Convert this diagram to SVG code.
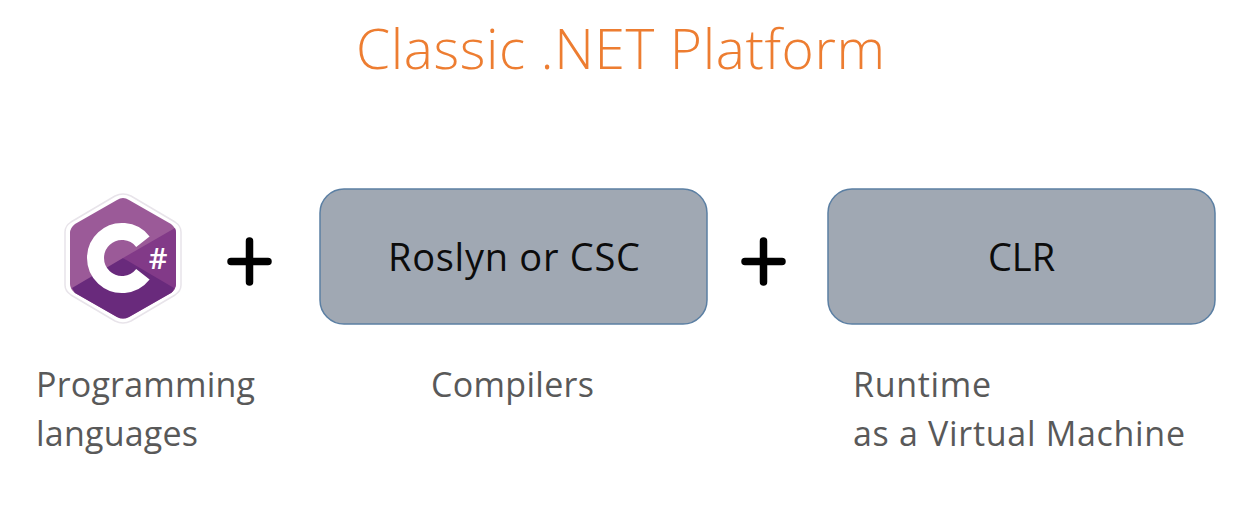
<svg xmlns="http://www.w3.org/2000/svg" width="1251" height="523" viewBox="0 0 1251 523">
<style>
text{font-family:"Open Sans","Noto Sans","Liberation Sans",sans-serif}
.box{fill:#a0a8b3;stroke:#5b7fa3;stroke-width:1.5}
.boxt{font-size:38px;fill:#0c0c0c;text-anchor:middle}
.cap{font-size:34px;fill:#595959}
.plus{stroke:#000;stroke-width:7.500;stroke-linecap:round;fill:none}
</style>
<rect width="1251" height="523" fill="#fff"/>
<text id="title" x="620.500" y="69" font-size="55" font-weight="350" fill="#ed7d31" text-anchor="middle" textLength="529" lengthAdjust="spacing">Classic .NET Platform</text>
<g id="csharp-logo">
<path d="M123 194 Q127 194 131 196 L175 222 Q181 226 181 232 L181 285 Q181 291 175 295 L131 321 Q123 325 115 321 L71 295 Q65 291 65 285 L65 232 Q65 226 71 222 L115 196 Q119 194 123 194Z" fill="#fff" stroke="#e8e4ea" stroke-width="1.5"/>
<path d="M123 198 Q126 198 129 200 L171 224 Q176 228 176 233 L176 284 Q176 289 171 293 L129 317 Q123 320 117 317 L75 293 Q70 289 70 284 L70 233 Q70 228 75 224 L117 200 Q120 198 123 198Z" fill="#9b5a98"/>
<path d="M175 228 Q176 230 176 233 L176 284 Q176 289 171 293 L123 258Z" fill="#823a88"/>
<path d="M72 288 L123 258 L174 288 Q173 292 171 293 L129 317 Q123 320 117 317 L75 293Z" fill="#692a7c"/>
<path d="M142.900 241.700 A26.500 26.500 0 1 0 142.900 274.300" fill="none" stroke="#fff" stroke-width="17"/>
<text x="158" y="269" font-size="29" font-weight="600" fill="#fff" text-anchor="middle">#</text>
</g>
<g id="connectors">
<path class="plus" d="M231 261.500 H268 M249.500 241 V282"/>
<path class="plus" d="M745 261.500 H782 M763.500 241 V282"/>
</g>
<g id="roslyn">
<rect class="box" x="320" y="189" width="387" height="135" rx="24"/>
<text class="boxt" x="514" y="271" textLength="252" lengthAdjust="spacing">Roslyn or CSC</text>
</g>
<g id="clr">
<rect class="box" x="828" y="189" width="387" height="135" rx="24"/>
<text class="boxt" x="1021.500" y="271">CLR</text>
</g>
<g id="caption-languages">
<text class="cap" x="36" y="397" textLength="219" lengthAdjust="spacing">Programming</text>
<text class="cap" x="36" y="446" textLength="162" lengthAdjust="spacing">languages</text>
</g>
<g id="caption-compilers">
<text class="cap" x="431" y="397" textLength="163" lengthAdjust="spacing">Compilers</text>
</g>
<g id="caption-runtime">
<text class="cap" x="853" y="397" textLength="138" lengthAdjust="spacing">Runtime</text>
<text class="cap" x="853" y="446" textLength="332" lengthAdjust="spacing">as a Virtual Machine</text>
</g>
</svg>
